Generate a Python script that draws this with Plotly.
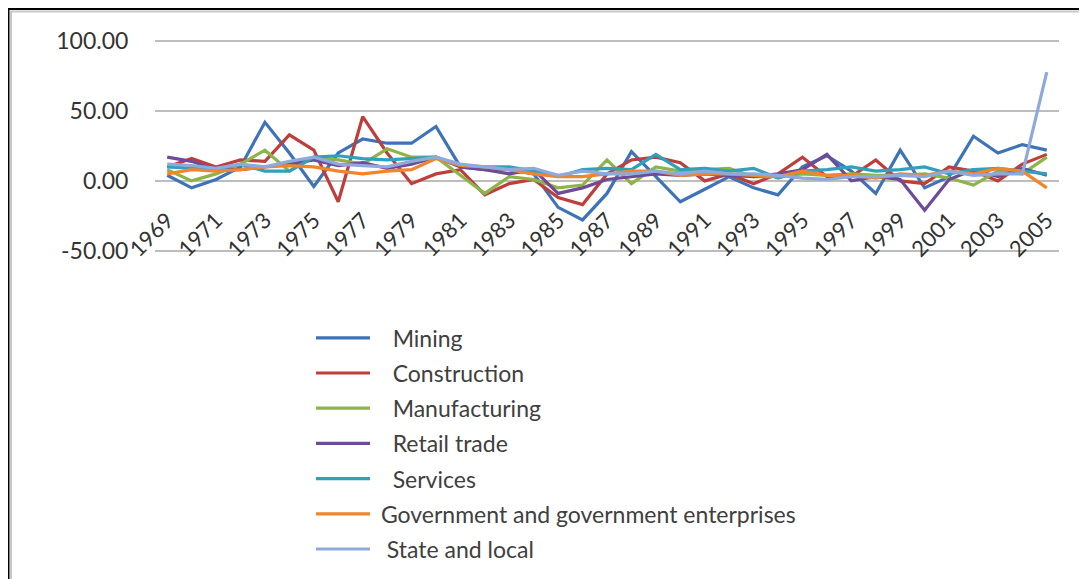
import plotly.graph_objects as go

# growth rates by sector, 1969-2005
years = [str(y) for y in range(1969, 2006)]

mining = [4, -5, 1, 10, 42, 20, -4, 20, 30, 27, 27, 39, 10, 8, 8, 5, -19, -28, -9, 21, 3, -15, -6, 3, -5,
          -10, 10, 18, 7, -9, 22, -5, 3, 32, 20, 26, 22]
construction = [10, 16, 10, 15, 14, 33, 22, -15, 46, 20, -2, 5, 8, -10, -2, 1, -12, -17, 5, 15, 17, 13, 0, 5, -2,
                5, 17, 3, 3, 15, 0, -2, 10, 7, 0, 12, 19]
manufacturing = [8, 0, 5, 12, 22, 7, 17, 15, 12, 23, 17, 17, 4, -9, 3, 1, -5, -3, 15, -2, 10, 7, 8, 9, 3,
                 3, 5, 4, 5, 4, 4, 5, 2, -3, 7, 5, 17]
retail = [17, 14, 8, 8, 10, 12, 15, 11, 13, 9, 12, 17, 10, 8, 5, 8, -9, -5, 1, 3, 5, 4, 5, 4, 3,
          5, 8, 19, 0, 3, 1, -21, 1, 8, 3, 9, 4]
services = [10, 9, 8, 12, 7, 7, 17, 18, 16, 15, 16, 17, 11, 10, 10, 7, 3, 8, 9, 8, 19, 8, 9, 7, 9,
            2, 7, 8, 10, 7, 8, 10, 5, 8, 9, 7, 5]
government = [5, 8, 7, 8, 10, 11, 10, 7, 5, 7, 8, 16, 11, 10, 8, 5, 3, 3, 5, 7, 7, 4, 5, 5, 4,
              3, 7, 4, 4, 2, 5, 4, 7, 5, 9, 7, -5]
state_local = [12, 11, 9, 12, 10, 14, 17, 12, 11, 10, 14, 17, 12, 10, 8, 9, 4, 7, 5, 5, 7, 5, 7, 5, 5,
               4, 2, 1, 3, 3, 4, 3, 7, 4, 5, 5, 78]

y_ticks = [-50, 0, 50, 100]
y_tick_text = ["-50.00", "0.00", "50.00", "100.00"]

NB = "\u00a0"
series = [
    (NB * 3 + "Mining", mining, "#3F73B8"),
    (NB * 3 + "Construction", construction, "#BE3E3B"),
    (NB * 3 + "Manufacturing", manufacturing, "#8DB449"),
    (NB * 3 + "Retail trade", retail, "#6E4B96"),
    (NB * 3 + "Services", services, "#30A1BC"),
    (NB + "Government and government enterprises", government, "#F0852D"),
    (NB * 2 + "State and local", state_local, "#8EA9DB"),
]

OFF = 8  # the page body has an 8px margin
W, H = 1087 - OFF, 579 - OFF
# plot area in page pixels, padded by one data unit (1.4 px) so the edge gridlines show
L, R, T, B = 155, 1059, 41 - 1.4, 251 + 1.4

fig = go.Figure()
for i, (name, vals, col) in enumerate(series):
    fig.add_trace(go.Scatter(x=years, y=vals, name=name, mode="lines",
                             line=dict(color=col, width=3.2), legendgroup=str(i)))


def px_x(p):
    return (p - L) / (R - L)


def px_y(p):
    return (B - p) / (B - T)


fig.update_layout(
    width=W, height=H,
    margin=dict(l=L - OFF, r=W + OFF - R, t=T - OFF, b=H + OFF - B, autoexpand=False),
    paper_bgcolor="white", plot_bgcolor="white",
    font=dict(family="Lato, Noto Sans, sans-serif", color="#404040"),
    showlegend=True,
    legend=dict(x=px_x(311), y=px_y(317), xanchor="left", yanchor="top",
                font=dict(size=23, color="#404040"), traceorder="grouped",
                tracegroupgap=2.3, itemwidth=54, bgcolor="rgba(0,0,0,0)"),
    shapes=[
        dict(type="rect", xref="paper", yref="paper",
             x0=px_x(11), x1=px_x(1100), y0=px_y(600), y1=px_y(11),
             line=dict(color="#c8c8c8", width=2)),
        dict(type="rect", xref="paper", yref="paper",
             x0=px_x(8), x1=px_x(1100), y0=px_y(600), y1=px_y(8),
             line=dict(color="black", width=3)),
    ],
)

fig.update_yaxes(range=[-51, 101], tickmode="array", tickvals=y_ticks, ticktext=y_tick_text,
                 showgrid=True, gridcolor="#bdbdbd", gridwidth=2,
                 zeroline=False, showline=False,
                 ticks="outside", ticklen=21, tickcolor="rgba(0,0,0,0)",
                 tickfont=dict(size=23, color="#333333"))

fig.update_xaxes(type="category", anchor="free", position=px_y(181),
                 showgrid=False, showline=False, zeroline=False,
                 tickangle=-45, tickmode="array",
                 tickvals=years[::2], ticktext=years[::2],
                 ticks="outside", ticklen=17, tickcolor="rgba(0,0,0,0)",
                 tickfont=dict(size=22, color="#333333"),
                 range=[-0.5, len(years) - 0.5])

fig.write_html("out.html")
